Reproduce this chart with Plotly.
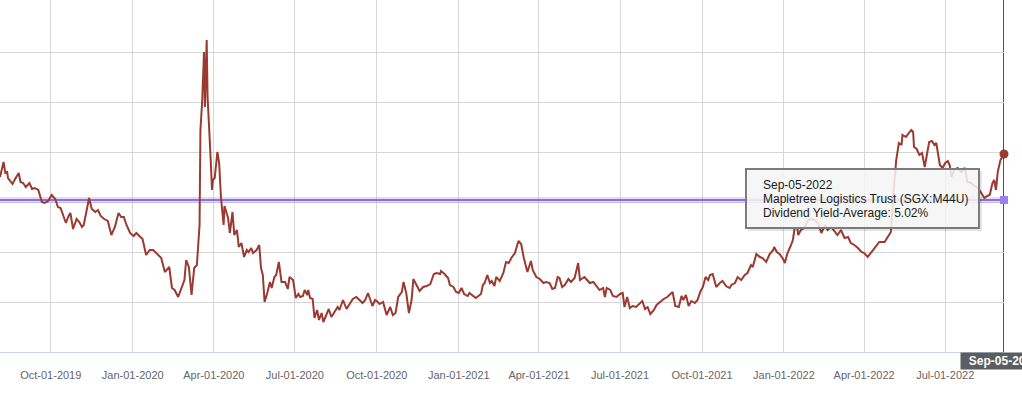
import plotly.graph_objects as go

# ---------------- data ----------------
dates = [
    "2019-08-05", "2019-08-09", "2019-08-11", "2019-08-13", "2019-08-14", "2019-08-19", "2019-08-22",
    "2019-08-26", "2019-08-28", "2019-08-31", "2019-09-03", "2019-09-07", "2019-09-10", "2019-09-13",
    "2019-09-17", "2019-09-21", "2019-09-24", "2019-09-28", "2019-10-02", "2019-10-06", "2019-10-09",
    "2019-10-12", "2019-10-16", "2019-10-18", "2019-10-21", "2019-10-23", "2019-10-26", "2019-10-30",
    "2019-11-02", "2019-11-05", "2019-11-07", "2019-11-10", "2019-11-13", "2019-11-16", "2019-11-20",
    "2019-11-23", "2019-11-26", "2019-11-30", "2019-12-04", "2019-12-08", "2019-12-12", "2019-12-16",
    "2019-12-19", "2019-12-22", "2019-12-25", "2019-12-29",
    "2020-01-02", "2020-01-05", "2020-01-09", "2020-01-12", "2020-01-16", "2020-01-20", "2020-01-24",
    "2020-01-30", "2020-02-02", "2020-02-06", "2020-02-11", "2020-02-14", "2020-02-17", "2020-02-21",
    "2020-02-25", "2020-02-28", "2020-03-01", "2020-03-04", "2020-03-07", "2020-03-10", "2020-03-13",
    "2020-03-15", "2020-03-16", "2020-03-17", "2020-03-19", "2020-03-21", "2020-03-22", "2020-03-24",
    "2020-03-25", "2020-03-28", "2020-03-30", "2020-03-31", "2020-04-02", "2020-04-05", "2020-04-07",
    "2020-04-09", "2020-04-12", "2020-04-13", "2020-04-17", "2020-04-19", "2020-04-22", "2020-04-24",
    "2020-04-27", "2020-04-29", "2020-05-02", "2020-05-05", "2020-05-08", "2020-05-10", "2020-05-13",
    "2020-05-15", "2020-05-19", "2020-05-22", "2020-05-24", "2020-05-26", "2020-05-28", "2020-05-31",
    "2020-06-03", "2020-06-05", "2020-06-08", "2020-06-10", "2020-06-13", "2020-06-16", "2020-06-20",
    "2020-06-23", "2020-06-25", "2020-06-29", "2020-07-02", "2020-07-05", "2020-07-07", "2020-07-10",
    "2020-07-12", "2020-07-15", "2020-07-16", "2020-07-18", "2020-07-21", "2020-07-23", "2020-07-26",
    "2020-07-28", "2020-07-31", "2020-08-02", "2020-08-05", "2020-08-08", "2020-08-11", "2020-08-15",
    "2020-08-18", "2020-08-20", "2020-08-24", "2020-08-28", "2020-09-01", "2020-09-04", "2020-09-08",
    "2020-09-12", "2020-09-15", "2020-09-18", "2020-09-21", "2020-09-23", "2020-09-26", "2020-09-29",
    "2020-10-01", "2020-10-04", "2020-10-08", "2020-10-12", "2020-10-16", "2020-10-19", "2020-10-22",
    "2020-10-25", "2020-10-29", "2020-10-31", "2020-11-03", "2020-11-06", "2020-11-09", "2020-11-11",
    "2020-11-15", "2020-11-18", "2020-11-22", "2020-11-26", "2020-11-30", "2020-12-04", "2020-12-07",
    "2020-12-11", "2020-12-12", "2020-12-16", "2020-12-20", "2020-12-22", "2020-12-26", "2020-12-29",
    "2021-01-01", "2021-01-04", "2021-01-07", "2021-01-11", "2021-01-13", "2021-01-16", "2021-01-20",
    "2021-01-23", "2021-01-26", "2021-01-28", "2021-01-30", "2021-02-02", "2021-02-05", "2021-02-07",
    "2021-02-10", "2021-02-12", "2021-02-16", "2021-02-20", "2021-02-23", "2021-02-26", "2021-03-01",
    "2021-03-05", "2021-03-09", "2021-03-12", "2021-03-15", "2021-03-19", "2021-03-23", "2021-03-25",
    "2021-03-29", "2021-04-02", "2021-04-06", "2021-04-09", "2021-04-13", "2021-04-16", "2021-04-19",
    "2021-04-22", "2021-04-24", "2021-04-27", "2021-04-30", "2021-05-04", "2021-05-07", "2021-05-11",
    "2021-05-15", "2021-05-17", "2021-05-22", "2021-05-25", "2021-05-28", "2021-06-01", "2021-06-04",
    "2021-06-08", "2021-06-12", "2021-06-14", "2021-06-16", "2021-06-20", "2021-06-23", "2021-06-27",
    "2021-07-01", "2021-07-04", "2021-07-06", "2021-07-09", "2021-07-12", "2021-07-15", "2021-07-19",
    "2021-07-22", "2021-07-26", "2021-07-29", "2021-08-01", "2021-08-04", "2021-08-08", "2021-08-11",
    "2021-08-15", "2021-08-19", "2021-08-23", "2021-08-26", "2021-08-29", "2021-09-01", "2021-09-05",
    "2021-09-08", "2021-09-10", "2021-09-13", "2021-09-16", "2021-09-19", "2021-09-23", "2021-09-26",
    "2021-09-29", "2021-10-02", "2021-10-05", "2021-10-08", "2021-10-10", "2021-10-13", "2021-10-17",
    "2021-10-21", "2021-10-24", "2021-10-28", "2021-11-01", "2021-11-03", "2021-11-07", "2021-11-10",
    "2021-11-14", "2021-11-18", "2021-11-21", "2021-11-25", "2021-11-27", "2021-12-01", "2021-12-05",
    "2021-12-08", "2021-12-12", "2021-12-16", "2021-12-20", "2021-12-21", "2021-12-24", "2021-12-27",
    "2021-12-31",
    "2022-01-02", "2022-01-05", "2022-01-09", "2022-01-11", "2022-01-13", "2022-01-16", "2022-01-17",
    "2022-01-20", "2022-01-24", "2022-01-28", "2022-02-01", "2022-02-04", "2022-02-08", "2022-02-12",
    "2022-02-16", "2022-02-19", "2022-02-23", "2022-02-27", "2022-03-02", "2022-03-06", "2022-03-10",
    "2022-03-14", "2022-03-17", "2022-03-21", "2022-03-25", "2022-03-29", "2022-04-01", "2022-04-05",
    "2022-04-09", "2022-04-13", "2022-04-18", "2022-04-24", "2022-04-28", "2022-05-01", "2022-05-04",
    "2022-05-07", "2022-05-10", "2022-05-13", "2022-05-14", "2022-05-18", "2022-05-21", "2022-05-24",
    "2022-05-26", "2022-05-27", "2022-05-30", "2022-06-02", "2022-06-05", "2022-06-08", "2022-06-10",
    "2022-06-13", "2022-06-16", "2022-06-19", "2022-06-21", "2022-06-25", "2022-06-28", "2022-07-01",
    "2022-07-04", "2022-07-06", "2022-07-08", "2022-07-11", "2022-07-15", "2022-07-19", "2022-07-23",
    "2022-07-26", "2022-07-30", "2022-08-03", "2022-08-07", "2022-08-10", "2022-08-14", "2022-08-17",
    "2022-08-20", "2022-08-23", "2022-08-25", "2022-08-27", "2022-08-29", "2022-09-01", "2022-09-05",
]

yields = [
    5.25, 5.40, 5.29, 5.30, 5.24, 5.18, 5.23,
    5.29, 5.20, 5.19, 5.15, 5.19, 5.13, 5.14,
    5.12, 5.00, 4.99, 5.01, 5.07, 5.03, 4.95,
    4.94, 4.84, 4.79, 4.86, 4.89, 4.73, 4.83,
    4.80, 4.75, 4.77, 4.90, 5.04, 4.93, 4.90,
    4.92, 4.86, 4.83, 4.81, 4.67, 4.75, 4.89,
    4.85, 4.85, 4.77, 4.69,
    4.66, 4.69, 4.65, 4.63, 4.47, 4.52, 4.52,
    4.47, 4.44, 4.30, 4.35, 4.14, 4.12, 4.05,
    4.15, 4.22, 4.42, 4.35, 4.07, 4.34, 4.37,
    4.72, 4.77, 5.72, 6.02, 6.50, 5.95, 6.62,
    6.05, 5.52, 5.12, 5.22, 5.24, 5.50, 5.39,
    5.05, 4.77, 4.96, 4.84, 4.69, 4.90, 4.67,
    4.72, 4.55, 4.59, 4.45, 4.52, 4.50, 4.54,
    4.49, 4.52, 4.57, 4.34, 4.27, 4.00, 4.09,
    4.20, 4.14, 4.25, 4.27, 4.40, 4.20, 4.20,
    4.13, 4.25, 4.22, 4.04, 4.08, 4.05, 4.06,
    4.12, 4.07, 4.12, 4.04, 4.03, 3.84, 3.92,
    3.82, 3.89, 3.80, 3.87, 3.93, 3.85, 3.90,
    3.95, 3.92, 4.02, 3.93, 3.99, 4.03, 4.05,
    4.02, 3.99, 4.02, 4.09, 4.04, 3.96, 4.02,
    4.01, 3.98, 4.00, 3.87, 3.95, 3.87, 3.89,
    4.05, 4.10, 4.20, 4.09, 3.89, 4.02, 4.23,
    4.16, 4.11, 4.15, 4.16, 4.18, 4.28, 4.29,
    4.28, 4.31, 4.28, 4.24, 4.17, 4.15, 4.10,
    4.09, 4.14, 4.08, 4.06, 4.09, 4.07, 4.04,
    4.06, 4.08, 4.17, 4.19, 4.27, 4.19, 4.21,
    4.16, 4.25, 4.21, 4.29, 4.40, 4.39, 4.44,
    4.49, 4.61, 4.58, 4.44, 4.30, 4.41, 4.32,
    4.25, 4.23, 4.19, 4.20, 4.19, 4.13, 4.14,
    4.25, 4.24, 4.15, 4.17, 4.23, 4.20, 4.24,
    4.39, 4.22, 4.25, 4.22, 4.19, 4.20, 4.17,
    4.12, 4.14, 4.05, 4.14, 4.12, 4.06, 4.05,
    4.08, 4.09, 3.95, 4.05, 3.94, 3.96, 3.95,
    3.98, 4.01, 3.93, 3.95, 3.88, 3.92, 3.97,
    4.00, 4.03, 4.05, 4.08, 4.10, 3.96, 3.95,
    4.06, 4.02, 4.07, 3.96, 4.01, 3.99, 4.02,
    4.10, 4.15, 4.25, 4.22, 4.27, 4.28, 4.15,
    4.19, 4.21, 4.16, 4.14, 4.17, 4.19, 4.25,
    4.22, 4.27, 4.29, 4.37, 4.35, 4.48, 4.45,
    4.44, 4.40, 4.48, 4.52, 4.55, 4.50, 4.48,
    4.43,
    4.39, 4.49, 4.57, 4.62, 4.74, 4.74, 4.67,
    4.72, 4.74, 4.82, 4.83, 4.82, 4.79, 4.69,
    4.77, 4.72, 4.75, 4.71, 4.67, 4.72, 4.64,
    4.65, 4.59, 4.57, 4.54, 4.50, 4.49, 4.45,
    4.50, 4.55, 4.60, 4.60, 4.65, 4.70, 5.09,
    5.42, 5.59, 5.57, 5.67, 5.65, 5.69, 5.72,
    5.70, 5.55, 5.53, 5.47, 5.49, 5.35, 5.45,
    5.60, 5.61, 5.57, 5.59, 5.37, 5.34, 5.39,
    5.41, 5.37, 5.25, 5.32, 5.34, 5.30, 5.34,
    5.20, 5.19, 5.16, 5.14, 5.10, 5.04, 5.06,
    5.07, 5.19, 5.22, 5.12, 5.30, 5.42, 5.48,
]

avg_yield = 5.02
tick_dates = ["2019-10-01", "2020-01-01", "2020-04-01", "2020-07-01", "2020-10-01", "2021-01-01",
              "2021-04-01", "2021-07-01", "2021-10-01", "2022-01-01", "2022-04-01", "2022-07-01"]
grid_values = [4.0, 4.5, 5.0, 5.5, 6.0, 6.5]
y_range = [3.5, 7.02]
hover_date = "2022-09-05"
hover_label = "Sep-05-2022"
tooltip_lines = ["Sep-05-2022", "Mapletree Logistics Trust (SGX:M44U)", "Dividend Yield-Average: 5.02%"]

# ---------------- layout helpers ----------------
W, H = 1022, 396
ML, MR, MT, MB = 0, 18, 0, 44
PW, PH = W - ML - MR, H - MT - MB
FONT = "Liberation Sans, Arial, sans-serif"

def fx(px):
    return px / PW

def fy(py):
    return 1 - py / PH

LINE_COLOR = "#9a3a31"
AVG_COLOR = "#8a6ee4"

fig = go.Figure()

# average line halo + line
fig.add_trace(go.Scatter(x=[dates[0], dates[-1]], y=[avg_yield, avg_yield], mode="lines",
                         line=dict(color="rgba(150,125,235,0.28)", width=6), hoverinfo="skip"))
fig.add_trace(go.Scatter(x=[dates[0], dates[-1]], y=[avg_yield, avg_yield], mode="lines",
                         line=dict(color=AVG_COLOR, width=2), hoverinfo="skip"))
# yield line
fig.add_trace(go.Scatter(x=dates, y=yields, mode="lines",
                         line=dict(color=LINE_COLOR, width=2), hoverinfo="skip"))
# hover markers
fig.add_trace(go.Scatter(x=[dates[-1]], y=[yields[-1]], mode="markers", cliponaxis=False,
                         marker=dict(color=LINE_COLOR, size=9, line=dict(width=0))))
fig.add_trace(go.Scatter(x=[dates[-1]], y=[avg_yield], mode="markers", cliponaxis=False,
                         marker=dict(color="#9a80f0", size=8, symbol="square", line=dict(width=0))))

shapes = [
    # crosshair
    dict(type="line", xref="x", yref="paper", x0=hover_date, x1=hover_date, y0=0, y1=1,
         line=dict(color="#4f5353", width=2), layer="below"),
    # tooltip shadow
    dict(type="rect", xref="paper", yref="paper", x0=fx(748), x1=fx(982), y0=fy(231), y1=fy(171),
         line=dict(width=0), fillcolor="rgba(0,0,0,0.10)", layer="above"),
    # tooltip box
    dict(type="rect", xref="paper", yref="paper", x0=fx(746), x1=fx(979), y0=fy(228), y1=fy(169),
         line=dict(color="#7b7b7b", width=2), fillcolor="rgba(248,248,248,0.86)", layer="above"),
]

annotations = []
for i, t in enumerate(tooltip_lines):
    annotations.append(dict(text=t, xref="paper", yref="paper", x=fx(760.5), y=fy(185 + 14 * i),
                            xanchor="left", yanchor="middle", showarrow=False,
                            font=dict(family=FONT, size=12, color="#1a1a1a")))
annotations.append(dict(text="<b>" + hover_label + "</b>", xref="x", yref="paper", x=hover_date, y=0,
                        xanchor="center", yanchor="top", showarrow=False, xshift=0,
                        width=84, align="center",
                        bgcolor="#5a5e5e", borderpad=1,
                        font=dict(family=FONT, size=12, color="#ffffff")))

fig.update_layout(
    width=W, height=H,
    margin=dict(l=ML, r=MR, t=MT, b=MB, pad=0),
    paper_bgcolor="white", plot_bgcolor="white",
    showlegend=False,
    shapes=shapes, annotations=annotations,
    xaxis=dict(type="date", range=[dates[0], dates[-1]], tickvals=tick_dates, tickformat="%b-%d-%Y",
               showgrid=True, gridcolor="#d6d6d6", gridwidth=1,
               showline=True, linecolor="#ccd6eb", linewidth=1,
               ticks="outside", ticklen=13, tickcolor="rgba(0,0,0,0)",
               tickfont=dict(family=FONT, size=11, color="#666666"), zeroline=False, fixedrange=True),
    yaxis=dict(range=y_range, tickvals=grid_values, showticklabels=False, showgrid=True,
               gridcolor="#d6d6d6", gridwidth=1, zeroline=False, showline=False, ticks="",
               fixedrange=True),
    hovermode=False,
)

fig.write_html("out.html")
